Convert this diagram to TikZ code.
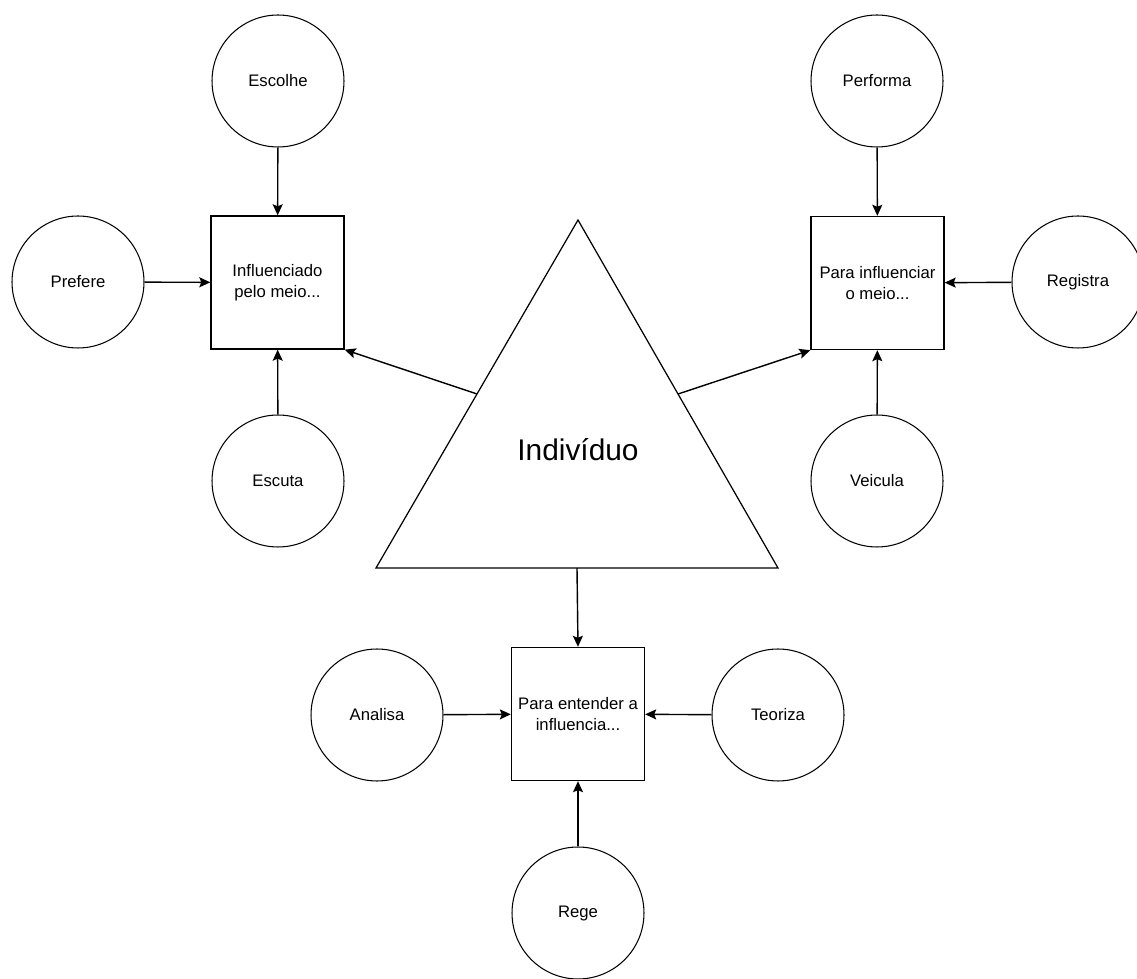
\documentclass[tikz,border=0pt]{standalone}
\usepackage{fontspec}
\setmainfont{Liberation Sans}
\usetikzlibrary{arrows.meta,calc}
\begin{document}
\begin{tikzpicture}[x=0.02cm,y=-0.02cm,
	acao/.style={draw, circle, line width=0.6pt, minimum size=2.64cm, inner sep=0pt, font=\fontsize{9.5}{12}\selectfont},
	meio/.style={draw, rectangle, line width=0.8pt, minimum size=2.66cm, inner sep=0pt, align=center, font=\fontsize{9.5}{12.3}\selectfont},
	seta/.style={arrows={-Stealth[length=0.22cm,width=0.2cm,inset=0.04cm]}, line width=0.8pt}]
	\useasboundingbox (0,0) rectangle (1137,979);
	% triangulo central
	\coordinate (tl) at (376,568); \coordinate (ta) at (578,220); \coordinate (tr) at (778,568);
	\draw [line width=0.7pt] (tl) -- (ta) -- (tr) -- cycle;
	\node (ind) at (578,450) {\fontsize{17}{20}\selectfont Indivíduo};
	% influenciado
	\node [meio] (inf) at (277.5,282.5) {Influenciado\\pelo meio...};
	\node [acao] (esc) at (278,81) {Escolhe};
	\node [acao] (pre) at (78,282) {Prefere};
	\node [acao] (escu) at (278,481) {Escuta};
	\draw [seta] (esc) -- (inf);\draw [seta] (pre) -- (inf);\draw [seta] (escu) -- (inf);
	% para influenciar
	\node [meio] (pin) at (877.5,283) {Para influenciar\\o meio...};
	\node [acao] (perf) at (877,81) {Performa};
	\node [acao] (reg) at (1078,282) {Registra};
	\node [acao] (vei) at (877,481) {Veicula};
	\draw [seta] (perf) -- (pin);\draw [seta] (reg) -- (pin);\draw [seta] (vei) -- (pin);
	% para entender
	\node [meio] (ent) at (578,714) {Para entender a\\influencia...};
	\node [acao] (ana) at (377,715) {Analisa};
	\node [acao] (teo) at (778,715) {Teoriza};
	\node [acao] (rege) at (578,913) {Rege};
	\draw [seta] (ana) -- (ent);\draw [seta] (teo) -- (ent);\draw [seta] (rege) -- (ent);
	% do individuo
	\draw [seta] ($(tl)!0.5!(ta)$) -- (inf.south east);
	\draw [seta] ($(tr)!0.5!(ta)$) -- (pin.south west);
	\draw [seta] ($(tl)!0.5!(tr)$) -- (ent.north);
\end{tikzpicture}
\end{document}
